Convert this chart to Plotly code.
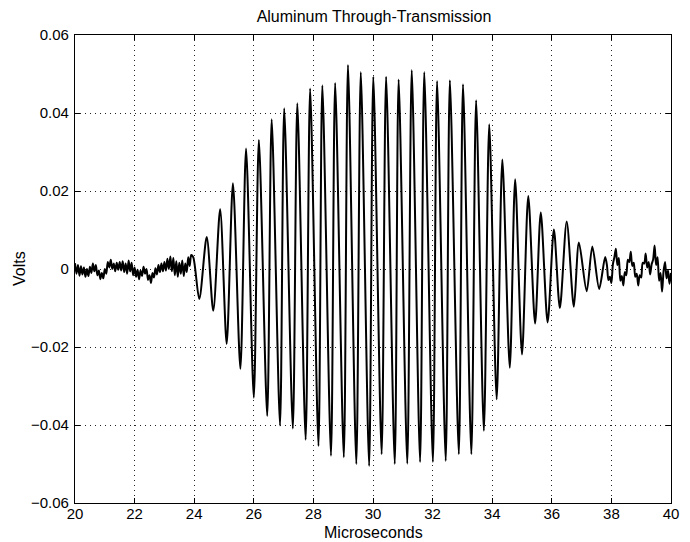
import plotly.graph_objects as go

# ---- data ----
# pre-burst noise (microseconds, volts)
pre_t = [20.00, 20.05, 20.10, 20.15, 20.20, 20.25, 20.30, 20.35, 20.40, 20.45,
         20.50, 20.55, 20.60, 20.65, 20.70, 20.75, 20.80, 20.85, 20.90, 20.95,
         21.00, 21.05, 21.10, 21.15, 21.20, 21.25, 21.30, 21.35, 21.40, 21.45,
         21.50, 21.55, 21.60, 21.65, 21.70, 21.75, 21.80, 21.85, 21.90, 21.95,
         22.00, 22.05, 22.10, 22.15, 22.20, 22.25, 22.30, 22.35, 22.40, 22.45,
         22.50, 22.55, 22.60, 22.65, 22.70, 22.75, 22.80, 22.85, 22.90, 22.95,
         23.00, 23.05, 23.10, 23.15, 23.20, 23.25, 23.30, 23.35, 23.40, 23.45,
         23.50, 23.55, 23.60, 23.65, 23.70, 23.75, 23.80, 23.85, 23.90]
pre_v = [0.0015, -0.0012, 0.0010, -0.0017, 0.0007, -0.0014, 0.0004, -0.0020, 0.0000, -0.0018,
         0.0006, -0.0010, 0.0014, -0.0006, 0.0010, -0.0016, -0.0004, -0.0026, -0.0010, -0.0024,
         0.0000, -0.0012, 0.0018, 0.0004, 0.0024, 0.0000, 0.0014, -0.0006, 0.0016, -0.0002,
         0.0018, -0.0004, 0.0020, -0.0008, 0.0014, -0.0012, 0.0022, -0.0006, 0.0016, -0.0016,
         0.0004, -0.0020, -0.0002, -0.0026, -0.0004, -0.0018, 0.0006, -0.0012, 0.0000, -0.0028,
         -0.0016, -0.0036, -0.0010, -0.0022, 0.0002, -0.0014, 0.0010, -0.0008, 0.0014, -0.0006,
         0.0018, -0.0004, 0.0026, 0.0000, 0.0032, -0.0006, 0.0028, -0.0016, 0.0020, -0.0020,
         0.0016, -0.0012, 0.0022, -0.0018, 0.0014, -0.0008, 0.0030, 0.0008, 0.0036]

# tone burst: successive peaks and troughs
burst_t = [23.97, 24.17, 24.42, 24.64, 24.87, 25.09, 25.30, 25.55, 25.74, 26.00,
           26.17, 26.45, 26.60, 26.88, 27.02, 27.31, 27.46, 27.74, 27.89, 28.17,
           28.30, 28.59, 28.73, 29.02, 29.16, 29.44, 29.59, 29.87, 30.01, 30.29,
           30.44, 30.73, 30.86, 31.15, 31.30, 31.58, 31.72, 32.01, 32.15, 32.44,
           32.58, 32.88, 33.02, 33.30, 33.46, 33.72, 33.90, 34.15, 34.34, 34.59,
           34.77, 35.00, 35.21, 35.44, 35.63, 35.86, 36.07, 36.27, 36.50, 36.74,
           36.91, 37.17, 37.36, 37.59, 37.79]
burst_v = [0.0030, -0.0077, 0.0082, -0.0107, 0.0153, -0.0192, 0.0220, -0.0256, 0.0309, -0.0330,
           0.0331, -0.0377, 0.0384, -0.0401, 0.0412, -0.0409, 0.0425, -0.0438, 0.0463, -0.0454,
           0.0471, -0.0479, 0.0477, -0.0483, 0.0523, -0.0500, 0.0505, -0.0505, 0.0493, -0.0475,
           0.0493, -0.0500, 0.0486, -0.0499, 0.0510, -0.0495, 0.0505, -0.0495, 0.0482, -0.0492,
           0.0484, -0.0475, 0.0474, -0.0475, 0.0433, -0.0415, 0.0371, -0.0334, 0.0281, -0.0253,
           0.0230, -0.0219, 0.0187, -0.0140, 0.0145, -0.0137, 0.0101, -0.0100, 0.0122, -0.0097,
           0.0068, -0.0057, 0.0058, -0.0051, 0.0031]

# post-burst noise
post_t = [37.85, 37.90, 37.95, 38.00, 38.05, 38.10, 38.15, 38.20, 38.25, 38.30,
          38.35, 38.40, 38.45, 38.50, 38.55, 38.60, 38.65, 38.70, 38.75, 38.80,
          38.85, 38.90, 38.95, 39.00, 39.05, 39.10, 39.15, 39.20, 39.25, 39.30,
          39.35, 39.40, 39.45, 39.50, 39.55, 39.60, 39.65, 39.70, 39.75, 39.80,
          39.85, 39.90, 39.95, 40.00]
post_v = [0.0010, -0.0028, -0.0020, -0.0036, 0.0012, 0.0030, 0.0052, 0.0010, 0.0028, -0.0030,
          -0.0018, -0.0042, -0.0008, -0.0016, 0.0024, 0.0018, 0.0044, 0.0008, 0.0016, -0.0020,
          -0.0012, -0.0042, -0.0016, -0.0022, 0.0016, 0.0014, 0.0040, 0.0004, 0.0018, -0.0014,
          0.0012, 0.0024, 0.0060, 0.0010, 0.0030, -0.0030, -0.0010, -0.0058, -0.0006, 0.0018,
          -0.0024, -0.0004, -0.0038, -0.0010]

x_ticks = [20, 22, 24, 26, 28, 30, 32, 34, 36, 38, 40]
y_ticks = [-0.06, -0.04, -0.02, 0, 0.02, 0.04, 0.06]
y_ticktext = ["\u22120.06", "\u22120.04", "\u22120.02", "0", "0.02", "0.04", "0.06"]

t_all = pre_t + burst_t + post_t
v_all = pre_v + burst_v + post_v

FONT = "Liberation Sans, Arial, Helvetica, sans-serif"

fig = go.Figure()
fig.add_trace(go.Scatter(x=t_all, y=v_all, mode="lines",
                         line=dict(color="black", width=2, shape="spline", smoothing=0.8),
                         showlegend=False, hoverinfo="skip"))

axis_common = dict(
    showline=True, linecolor="black", linewidth=1.2, mirror="ticks",
    ticks="inside", ticklen=5, tickcolor="black", tickwidth=1,
    showgrid=True, gridcolor="#222222", gridwidth=1, griddash="1px,4px",
    zeroline=False, tickfont=dict(family=FONT, size=15, color="black"),
)

fig.update_xaxes(range=[20, 40], tickvals=x_ticks, ticklabelstandoff=-3, **axis_common)
fig.update_yaxes(range=[-0.06, 0.06], tickvals=y_ticks, ticktext=y_ticktext,
                 ticklabelstandoff=2, **axis_common)

# the page body adds an 8px offset, so the figure is sized/margined to compensate
fig.update_layout(
    width=682, height=534,
    margin=dict(l=67, r=19, t=27, b=39),
    paper_bgcolor="white", plot_bgcolor="white",
    font=dict(family=FONT, size=15, color="black"),
    title=dict(text="Aluminum Through-Transmission", x=(374 - 8) / 682, xanchor="center",
               y=1 - 8 / 534, yanchor="middle", font=dict(family=FONT, size=16)),
    annotations=[
        dict(text="Microseconds", xref="paper", yref="paper", x=0.5, y=-(532 - 503) / 468,
             xanchor="center", yanchor="middle", showarrow=False, font=dict(family=FONT, size=16)),
        dict(text="Volts", xref="paper", yref="paper", x=(19 - 75) / 596, y=0.5,
             xanchor="center", yanchor="middle", textangle=-90, showarrow=False,
             font=dict(family=FONT, size=16)),
    ],
)

fig.write_html("out.html")
